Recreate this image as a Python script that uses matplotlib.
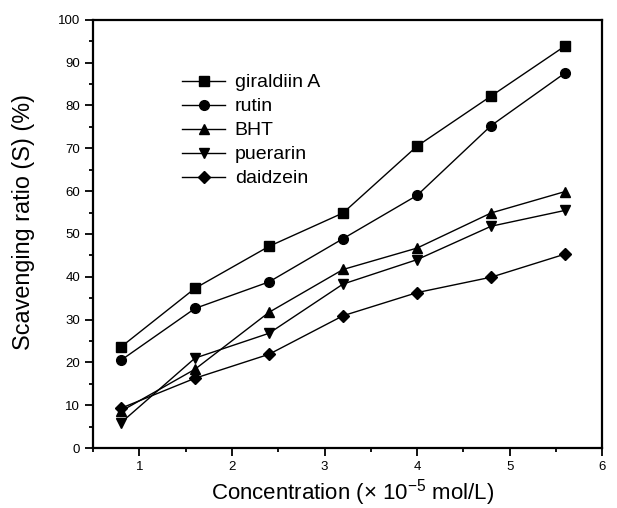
import numpy as np
import matplotlib.pyplot as plt
from matplotlib.ticker import MultipleLocator

plt.rcParams['font.family'] = ['Liberation Sans', 'DejaVu Sans']

# Concentração (x 10^-5 mol/L)
conc = [0.8, 1.6, 2.4, 3.2, 4.0, 4.8, 5.6]
giraldiin_a = [23.6, 37.3, 47.1, 54.9, 70.5, 82.2, 93.9]
rutin = [20.5, 32.6, 38.8, 48.9, 59.0, 75.3, 87.6]
bht = [8.6, 18.4, 31.7, 41.7, 46.7, 54.9, 59.9]
puerarin = [5.9, 21.0, 26.8, 38.3, 44.0, 51.8, 55.5]
daidzein = [9.3, 16.3, 21.9, 30.9, 36.3, 39.9, 45.3]

series = [
    ('giraldiin A', giraldiin_a, 's'),
    ('rutin', rutin, 'o'),
    ('BHT', bht, '^'),
    ('puerarin', puerarin, 'v'),
    ('daidzein', daidzein, 'D'),
]

fig = plt.figure(figsize=(6.17, 5.08), dpi=100)
ax = fig.add_axes([0.151, 0.118, 0.825, 0.843])

for label, vals, mk in series:
    ms = 6 if mk == 'D' else 7
    ax.plot(conc, vals, color='black', linewidth=1, marker=mk, markersize=ms, label=label)

ax.set_xlim(0.5, 6)
ax.set_ylim(0, 100)
ax.xaxis.set_major_locator(MultipleLocator(1))
ax.xaxis.set_minor_locator(MultipleLocator(0.5))
ax.yaxis.set_major_locator(MultipleLocator(10))
ax.yaxis.set_minor_locator(MultipleLocator(5))
ax.tick_params(which='major', direction='out', length=6, width=1.3, labelsize=9.5)
ax.tick_params(which='minor', direction='out', length=3, width=1.3)
for s in ax.spines.values():
    s.set_linewidth(1.6)

ax.set_xlabel('Concentration (× 10$^{\\mathregular{-5}}$ mol/L)', fontsize=16, va='center')
ax.set_ylabel('Scavenging ratio (S) (%)', fontsize=16.8, va='center')
ax.xaxis.set_label_coords(0.509, -0.104)
ax.yaxis.set_label_coords(-0.136, 0.528)

ax.legend(loc='upper left', bbox_to_anchor=(0.175, 0.874), frameon=False, fontsize=14,
          handlelength=2.2, labelspacing=0.33, handletextpad=0.5,
          borderpad=0, borderaxespad=0)

fig.savefig('out.png', dpi=100)
